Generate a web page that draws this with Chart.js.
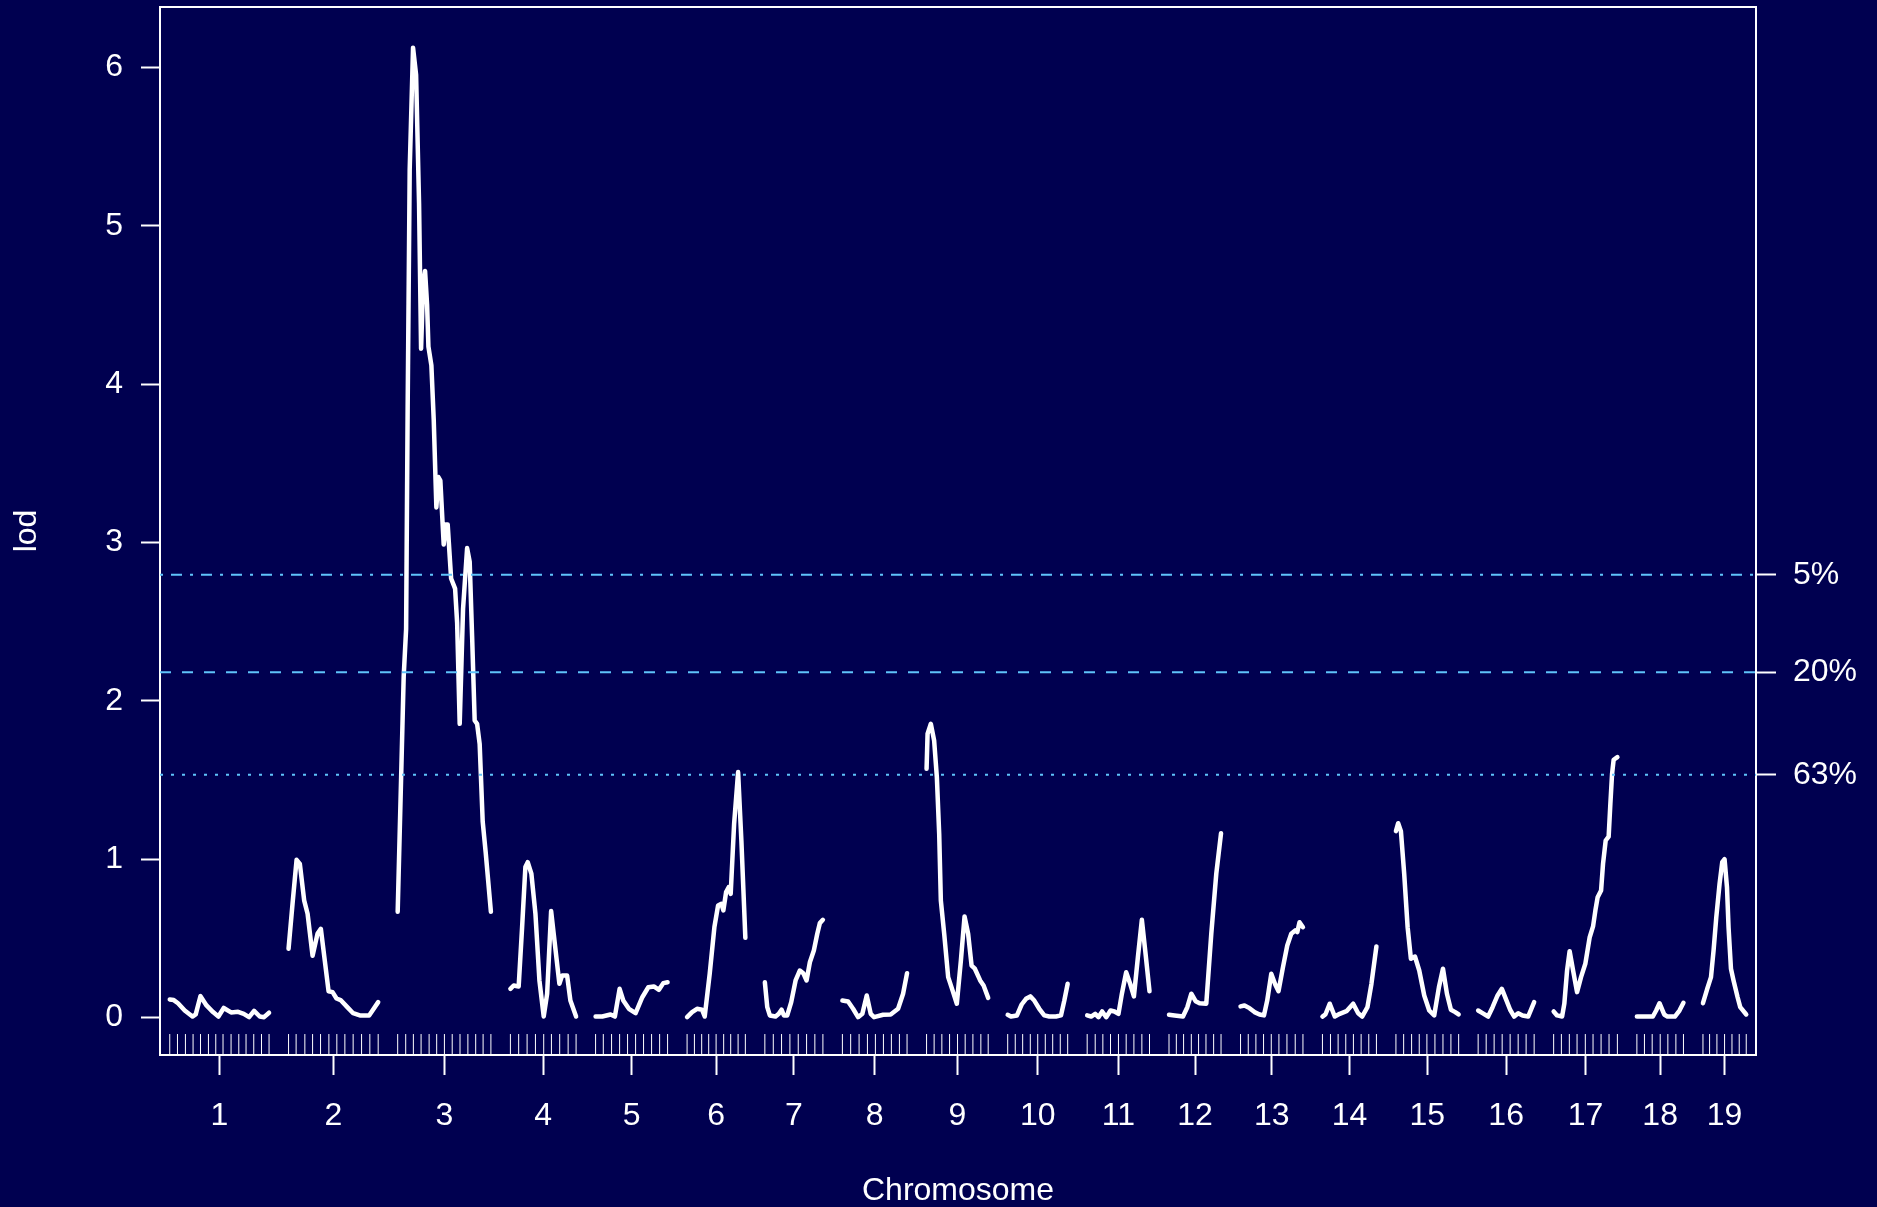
<!DOCTYPE html>
<html>
<head>
<meta charset="utf-8">
<title>LOD profile</title>
<script src="https://cdn.jsdelivr.net/npm/chart.js@4.4.1/dist/chart.umd.min.js"></script>
<style>
  html, body { margin: 0; padding: 0; background: #000050; }
  canvas { display: block; }
</style>
</head>
<body>
<canvas id="lodChart" width="1877" height="1207"></canvas>
<script>
// Genome scan: LOD score along each chromosome (positions in cM)
const chromosomes = ['1','2','3','4','5','6','7','8','9','10','11','12','13','14','15','16','17','18','19'];

// Genetic markers on each chromosome (cM from first marker)
const markerPositions = [
  [0, 9.9, 20.1, 29.9, 39.4, 49.6, 59.0, 68.3, 78.6, 88.5, 97.8, 107.7, 117.6, 127.3],
  [0, 9.7, 20.9, 30.8, 41.0, 51.7, 61.9, 72.2, 82.8, 93.6, 104.2, 114.9],
  [0, 10.3, 20.1, 30.0, 40.3, 50.0, 59.9, 69.9, 79.9, 90.0, 100.0, 109.5, 119.5],
  [0, 10.6, 21.4, 32.1, 42.7, 52.6, 63.2, 74.0, 84.2],
  [0, 9.9, 20.5, 30.8, 41.0, 51.3, 61.5, 71.8, 82.1, 92.3],
  [0, 9.4, 18.7, 27.7, 37.2, 46.9, 55.9, 65.4, 74.7],
  [0, 10.8, 21.4, 32.1, 42.8, 53.5, 64.1, 74.4],
  [0, 10.6, 21.4, 32.1, 42.3, 52.6, 62.8, 73.1, 82.9],
  [0, 9.7, 19.6, 29.5, 39.7, 49.5, 59.4, 69.6, 79.0],
  [0, 9.7, 19.2, 29.0, 38.5, 48.2, 57.7, 67.4, 76.9],
  [0, 10.3, 20.1, 29.9, 40.1, 50.0, 59.9, 70.1, 79.9],
  [0, 9.4, 18.7, 28.6, 37.9, 47.4, 57.2, 66.7],
  [0, 9.9, 19.7, 29.5, 39.4, 49.2, 59.5, 70.1, 80.0],
  [0, 10.3, 20.1, 29.9, 39.7, 49.6, 59.4, 69.2],
  [0, 9.9, 20.1, 29.9, 39.7, 50.0, 60.3, 70.5, 80.4],
  [0, 10.3, 20.5, 30.8, 41.0, 51.3, 61.5, 71.8],
  [0, 9.9, 20.1, 30.0, 40.6, 50.5, 60.8, 71.0, 81.7],
  [0, 9.7, 19.6, 29.9, 39.7, 50.0, 59.7],
  [0, 8.5, 17.9, 27.7, 37.2, 46.5, 55.5]
];

// Scan positions (cM) on each chromosome
const lodPositions = [
  [0, 5.1, 10.6, 19.2, 29.1, 33.3, 39.4, 47.1, 55.5, 62.4, 69.2, 78.6, 87.6, 94.9, 101.7, 108.1, 115.4, 120.9, 127.3],
  [0, 5.1, 10.3, 14.5, 20.0, 24.4, 30.8, 37.2, 41.4, 51.3, 56.4, 61.5, 66.7, 74.4, 82.8, 91.4, 103.3, 114.9],
  [0, 4.4, 7.7, 10.8, 12.8, 15.4, 19.7, 23.6, 27.4, 30.0, 32.6, 35.1, 37.7, 39.4, 43.2, 46.2, 49.6, 52.2, 54.7, 59.0, 61.5, 64.1, 68.5, 73.6, 76.2, 79.5, 83.8, 89.0, 92.3, 95.4, 98.7, 101.8, 105.1, 109.0, 112.8, 119.5],
  [0, 4.2, 10.6, 15.0, 19.2, 22.2, 26.9, 32.1, 37.2, 42.7, 47.1, 52.2, 55.5, 62.8, 66.3, 72.7, 76.9, 84.2],
  [0, 8.6, 19.2, 24.7, 30.8, 35.5, 42.7, 51.3, 59.9, 67.6, 74.7, 81.2, 86.8, 92.3],
  [0, 6.4, 12.8, 19.2, 22.6, 29.0, 35.0, 39.7, 44.0, 46.5, 50.0, 53.3, 55.9, 60.3, 65.4, 69.6, 74.7],
  [0, 3.1, 6.4, 13.7, 17.9, 21.4, 24.4, 28.7, 33.8, 39.4, 44.9, 49.2, 53.5, 57.7, 62.8, 67.2, 70.5, 74.4],
  [0, 7.3, 13.7, 20.1, 25.6, 31.2, 36.3, 40.6, 52.2, 61.9, 71.4, 77.8, 82.9],
  [0, 1.3, 5.5, 9.7, 13.2, 16.2, 18.3, 22.6, 27.7, 33.3, 38.8, 44.0, 48.7, 53.3, 57.7, 61.9, 68.7, 73.1, 79.0],
  [0, 4.2, 11.9, 17.9, 23.5, 29.0, 34.1, 40.5, 46.9, 53.3, 61.9, 68.3, 72.6, 76.9],
  [0, 5.1, 10.3, 14.5, 19.2, 24.4, 29.9, 35.0, 40.1, 44.5, 50.0, 55.1, 59.9, 65.0, 70.1, 74.4, 79.9],
  [0, 7.2, 17.9, 23.5, 28.6, 34.1, 39.2, 47.8, 54.2, 60.6, 66.7],
  [0, 5.1, 11.5, 17.9, 24.4, 30.0, 34.2, 39.4, 44.5, 48.7, 54.4, 59.9, 65.0, 70.1, 72.7, 75.6, 80.0],
  [0, 3.8, 9.4, 15.8, 22.2, 30.8, 39.4, 45.8, 50.9, 57.7, 62.8, 69.2],
  [0, 2.9, 6.4, 10.6, 15.0, 19.2, 24.4, 29.9, 36.3, 42.7, 49.1, 55.1, 60.3, 65.4, 70.5, 76.0, 80.4],
  [0, 5.6, 12.8, 18.5, 24.9, 30.4, 35.5, 41.0, 46.2, 51.3, 56.9, 64.1, 71.8],
  [0, 4.4, 10.8, 13.7, 17.2, 20.5, 24.9, 30.0, 35.1, 40.6, 46.2, 50.5, 53.5, 56.4, 60.8, 63.3, 66.7, 70.5, 72.7, 74.9, 76.9, 81.7],
  [0, 8.5, 20.5, 24.7, 29.0, 35.0, 39.2, 48.7, 54.6, 59.7],
  [0, 5.1, 10.3, 13.6, 17.1, 21.3, 24.7, 27.7, 30.8, 32.8, 35.9, 39.2, 44.4, 47.8, 55.5]
];

// LOD score at each scan position
const lodScores = [
  [0.114, 0.11, 0.09, 0.044, 0.006, 0.02, 0.135, 0.076, 0.034, 0.006, 0.06, 0.032, 0.036, 0.023, 0.002, 0.042, 0.006, 0.002, 0.03],
  [0.434, 0.718, 0.996, 0.97, 0.74, 0.655, 0.39, 0.53, 0.56, 0.166, 0.16, 0.12, 0.11, 0.07, 0.027, 0.013, 0.013, 0.097],
  [0.668, 1.514, 2.154, 2.453, 3.862, 5.357, 6.126, 5.955, 5.143, 4.225, 4.63, 4.716, 4.503, 4.238, 4.119, 3.777, 3.222, 3.414, 3.392, 2.987, 3.114, 3.114, 2.773, 2.709, 2.495, 1.855, 2.581, 2.965, 2.88, 2.41, 1.876, 1.855, 1.727, 1.236, 1.044, 0.668],
  [0.181, 0.202, 0.196, 0.57, 0.95, 0.981, 0.908, 0.655, 0.234, 0.006, 0.15, 0.672, 0.529, 0.213, 0.265, 0.265, 0.107, 0.006],
  [0.006, 0.006, 0.019, 0.006, 0.181, 0.107, 0.055, 0.027, 0.128, 0.191, 0.196, 0.175, 0.217, 0.223],
  [0.002, 0.034, 0.055, 0.049, 0.006, 0.276, 0.57, 0.707, 0.718, 0.676, 0.792, 0.823, 0.781, 1.224, 1.55, 1.118, 0.503],
  [0.223, 0.065, 0.013, 0.006, 0.023, 0.049, 0.013, 0.013, 0.097, 0.234, 0.297, 0.28, 0.234, 0.349, 0.423, 0.529, 0.596, 0.617],
  [0.107, 0.101, 0.055, 0.002, 0.023, 0.139, 0.023, 0.002, 0.017, 0.019, 0.055, 0.15, 0.28],
  [1.571, 1.792, 1.855, 1.75, 1.518, 1.16, 0.739, 0.529, 0.255, 0.171, 0.087, 0.36, 0.638, 0.529, 0.328, 0.308, 0.234, 0.202, 0.124],
  [0.017, 0.006, 0.013, 0.082, 0.118, 0.133, 0.107, 0.055, 0.013, 0.006, 0.006, 0.013, 0.107, 0.213],
  [0.013, 0.006, 0.023, 0.002, 0.038, 0.002, 0.044, 0.038, 0.023, 0.15, 0.286, 0.213, 0.133, 0.381, 0.617, 0.423, 0.166],
  [0.017, 0.013, 0.006, 0.065, 0.15, 0.103, 0.09, 0.087, 0.529, 0.908, 1.164],
  [0.07, 0.076, 0.059, 0.034, 0.019, 0.013, 0.107, 0.276, 0.208, 0.166, 0.318, 0.455, 0.529, 0.55, 0.539, 0.602, 0.57],
  [0.006, 0.019, 0.087, 0.006, 0.023, 0.04, 0.087, 0.027, 0.006, 0.065, 0.213, 0.449],
  [1.177, 1.227, 1.177, 0.908, 0.57, 0.371, 0.385, 0.297, 0.139, 0.044, 0.013, 0.191, 0.308, 0.15, 0.049, 0.034, 0.019],
  [0.044, 0.027, 0.006, 0.065, 0.139, 0.181, 0.118, 0.049, 0.006, 0.027, 0.013, 0.006, 0.097],
  [0.038, 0.013, 0.006, 0.087, 0.297, 0.419, 0.297, 0.16, 0.255, 0.339, 0.507, 0.575, 0.676, 0.76, 0.802, 0.971, 1.118, 1.143, 1.35, 1.54, 1.628, 1.645],
  [0.006, 0.006, 0.006, 0.044, 0.09, 0.019, 0.006, 0.006, 0.044, 0.093],
  [0.09, 0.175, 0.255, 0.423, 0.634, 0.845, 0.981, 1.0, 0.823, 0.57, 0.308, 0.234, 0.128, 0.065, 0.019]
];

// Permutation significance thresholds
const thresholdValues = [2.797, 2.18, 1.533];
const thresholdLabels = ['5%', '20%', '63%'];

const yTickValues = [0, 1, 2, 3, 4, 5, 6];

// ---- layout of chromosomes along one axis ----
const GAP = 25;           // cM gap between consecutive chromosomes
const Y_MIN = -0.237;
const Y_MAX = 6.383;

const offsets = [];
let cursor = 0;
markerPositions.forEach(m => { offsets.push(cursor); cursor += m[m.length - 1] + GAP; });
const X_MIN = -GAP / 2;
const X_MAX = cursor - GAP / 2;
const chrMid = markerPositions.map((m, i) => offsets[i] + m[m.length - 1] / 2);

const FG = '#ffffff';
const BG = '#000050';
const THRESH_COLOR = 'rgb(95,195,250)';
const FONT = '"Liberation Sans", Arial, Helvetica, sans-serif';
const FONT_SIZE = 32;

const datasets = [];

// LOD curve, one dataset per chromosome
chromosomes.forEach((c, i) => {
  datasets.push({
    label: 'chr' + c,
    data: lodPositions[i].map((p, j) => ({ x: offsets[i] + p, y: lodScores[i][j] })),
    borderColor: FG,
    borderWidth: 4.5,
    borderCapStyle: 'round',
    borderJoinStyle: 'round',
    pointRadius: 0,
    showLine: true,
    tension: 0,
    xAxisID: 'x',
    yAxisID: 'y',
    order: 1
  });
});

// Marker rug along the bottom of the plot
const rugTop = Y_MIN + 0.02 * (Y_MAX - Y_MIN);
const rugData = [];
markerPositions.forEach((m, i) => m.forEach(p => {
  const x = offsets[i] + p;
  rugData.push({ x, y: Y_MIN }, { x, y: rugTop }, { x, y: null });
}));
datasets.push({
  label: 'markers',
  data: rugData,
  borderColor: FG,
  borderWidth: 1,
  pointRadius: 0,
  showLine: true,
  spanGaps: false,
  xAxisID: 'x',
  yAxisID: 'y',
  order: 2
});

// Threshold lines: dot-dash, dashed, dotted
const dashPatterns = [[3, 8, 11, 8], [11, 11], [3, 8]];
thresholdValues.forEach((v, k) => {
  datasets.push({
    label: thresholdLabels[k],
    data: [{ x: X_MIN, y: v }, { x: X_MAX, y: v }],
    borderColor: THRESH_COLOR,
    borderWidth: 2,
    borderDash: dashPatterns[k],
    pointRadius: 0,
    showLine: true,
    xAxisID: 'x',
    yAxisID: 'y',
    order: 0
  });
});

const background = {
  id: 'background',
  beforeDraw(chart) {
    const ctx = chart.ctx;
    ctx.save();
    ctx.fillStyle = BG;
    ctx.fillRect(0, 0, chart.width, chart.height);
    ctx.restore();
  }
};

const tickFont = { family: FONT, size: FONT_SIZE };

// fixed axis sizes, without the extra edge padding reserved for end labels
const fixHeight = h => s => { s.height = h; s.paddingLeft = 0; s.paddingRight = 0; };
const fixWidth = w => s => { s.width = w; s.paddingTop = 0; s.paddingBottom = 0; };

new Chart(document.getElementById('lodChart'), {
  type: 'scatter',
  data: { datasets },
  plugins: [background],
  options: {
    responsive: false,
    devicePixelRatio: 1,
    animation: false,
    layout: { padding: { top: 7, left: 0, right: 0, bottom: 0 } },
    plugins: { legend: { display: false }, tooltip: { enabled: false } },
    scales: {
      x: {
        type: 'linear',
        position: 'bottom',
        min: X_MIN,
        max: X_MAX,
        bounds: 'data',
        afterBuildTicks: s => { s.ticks = chrMid.map(v => ({ value: v })); },
        afterFit: fixHeight(152),
        ticks: {
          autoSkip: false,
          maxRotation: 0,
          padding: 22,
          color: FG,
          font: tickFont,
          callback: (v, i) => chromosomes[i]
        },
        grid: { drawOnChartArea: false, drawTicks: true, tickLength: 20, tickWidth: 2, tickColor: FG, color: FG },
        border: { display: true, color: FG, width: 2 },
        title: { display: true, text: 'Chromosome', color: FG, font: tickFont, padding: { top: 0, bottom: -3 } }
      },
      xTop: {
        type: 'linear',
        position: 'top',
        min: X_MIN,
        max: X_MAX,
        ticks: { display: false },
        grid: { display: false, drawTicks: false },
        border: { display: true, color: FG, width: 2 },
        afterFit: fixHeight(0)
      },
      y: {
        type: 'linear',
        position: 'left',
        min: Y_MIN,
        max: Y_MAX,
        bounds: 'data',
        afterBuildTicks: s => { s.ticks = yTickValues.map(v => ({ value: v })); },
        afterFit: fixWidth(160),
        ticks: { autoSkip: false, padding: 18, color: FG, font: tickFont, callback: v => String(v) },
        grid: { drawOnChartArea: false, drawTicks: true, tickLength: 19, tickWidth: 2, tickColor: FG, color: FG },
        border: { display: true, color: FG, width: 2 },
        title: { display: true, text: 'lod', color: FG, font: tickFont, padding: { top: 8, bottom: 0 } }
      },
      y2: {
        type: 'linear',
        position: 'right',
        min: Y_MIN,
        max: Y_MAX,
        bounds: 'data',
        afterBuildTicks: s => { s.ticks = thresholdValues.map(v => ({ value: v })); },
        afterFit: fixWidth(121),
        ticks: { autoSkip: false, padding: 17, color: FG, font: tickFont, callback: (v, i) => thresholdLabels[i] },
        grid: { drawOnChartArea: false, drawTicks: true, tickLength: 20, tickWidth: 2, tickColor: FG, color: FG },
        border: { display: true, color: FG, width: 2 }
      }
    }
  }
});
</script>
</body>
</html>
